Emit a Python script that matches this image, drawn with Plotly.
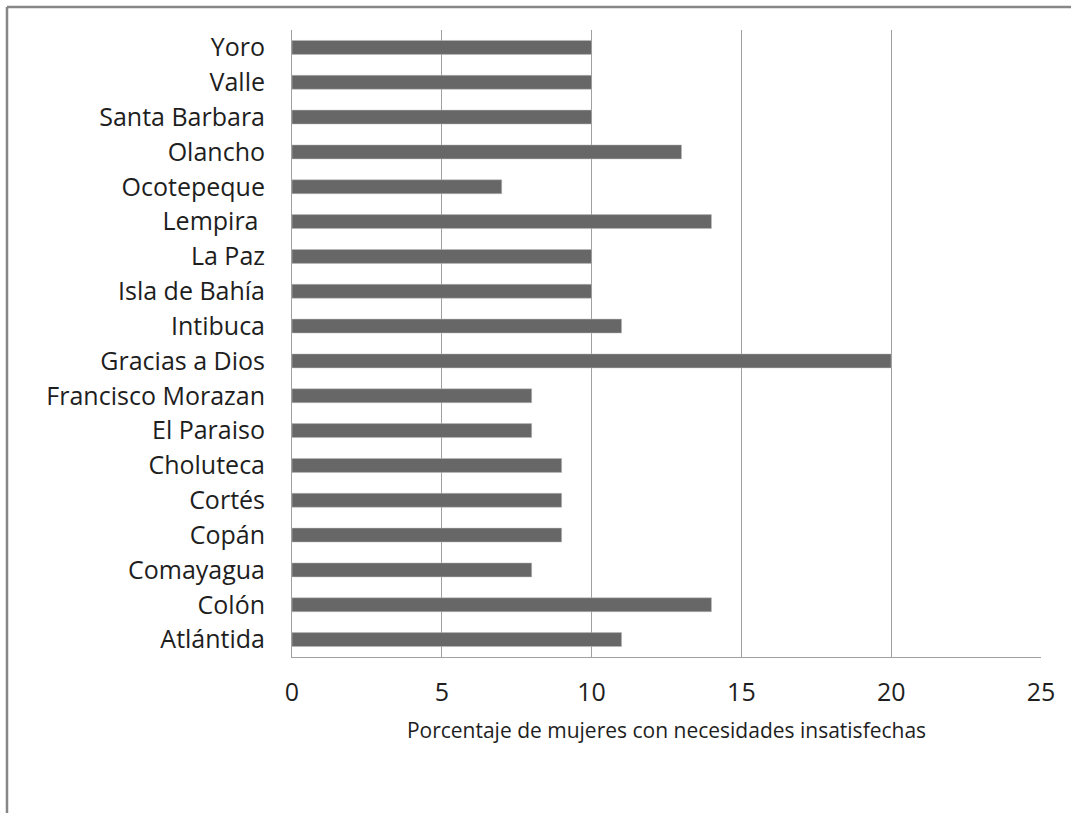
import plotly.graph_objects as go

categories = ["Atlántida", "Colón", "Comayagua", "Copán", "Cortés", "Choluteca",
              "El Paraiso", "Francisco Morazan", "Gracias a Dios", "Intibuca",
              "Isla de Bahía", "La Paz", "Lempira ", "Ocotepeque", "Olancho",
              "Santa Barbara", "Valle", "Yoro"]
values = [11, 14, 8, 9, 9, 9, 8, 8, 20, 11, 10, 10, 14, 7, 13, 10, 10, 10]
x_ticks = [0, 5, 10, 15, 20, 25]
x_title = "Porcentaje de mujeres con necesidades insatisfechas"

fig = go.Figure(go.Bar(
    x=values, y=categories, orientation="h",
    marker=dict(color="#676767", line=dict(color="#bdbdbd", width=0.5)),
))

L, R, T, B = 292, 30, 30, 156
W, H = 1071, 813
pw, ph = W - L - R, H - T - B

fig.update_layout(
    width=W, height=H,
    margin=dict(l=L, r=R, t=T, b=B),
    paper_bgcolor="white", plot_bgcolor="white",
    bargap=0.6,
    showlegend=False,
    font=dict(family="Open Sans, Liberation Sans, sans-serif", color="#1e1e1e"),
    xaxis=dict(
        range=[0, 25], tickvals=x_ticks, ticks="",
        showgrid=True, gridcolor="#a0a0a0", gridwidth=1,
        showline=True, linecolor="#a0a0a0", linewidth=1,
        zeroline=False,
        tickfont=dict(size=25, color="#1e1e1e"),
        ticklabelstandoff=13,
        title=dict(text=x_title, font=dict(size=21, color="#1e1e1e"), standoff=16),
    ),
    yaxis=dict(
        ticks="", showline=True, linecolor="#a0a0a0", linewidth=1,
        showgrid=False, zeroline=False,
        tickfont=dict(size=25, color="#1e1e1e"),
        ticklabelstandoff=21,
        range=[-0.5, len(categories) - 0.5],
    ),
    shapes=[
        dict(type="line", xref="paper", yref="paper",
             x0=(7 - L) / pw, x1=1.2, y0=1 + (T - 7) / ph, y1=1 + (T - 7) / ph,
             line=dict(color="#878787", width=2.5)),
        dict(type="line", xref="paper", yref="paper",
             x0=(7 - L) / pw, x1=(7 - L) / pw, y0=1 + (T - 7) / ph, y1=-0.5,
             line=dict(color="#878787", width=2.5)),
    ],
)

fig.write_html("out.html", config={"displayModeBar": False},
               post_script="document.body.style.margin='0';")
